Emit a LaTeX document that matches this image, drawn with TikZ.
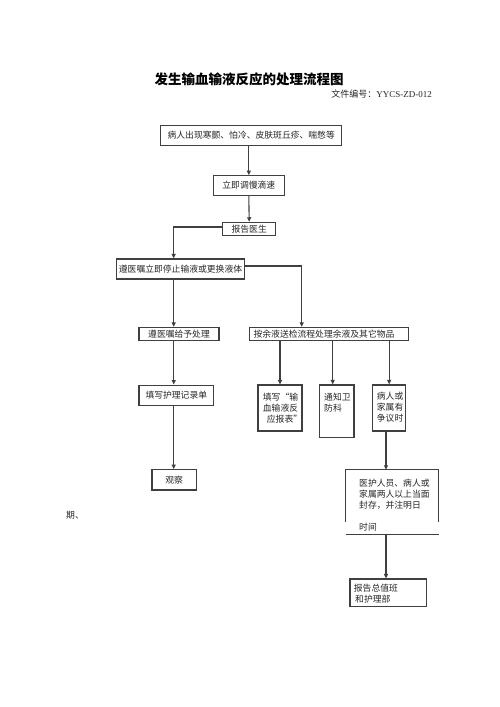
\documentclass[tikz,border=0pt]{standalone}
\usepackage{fontspec}
\setmainfont{Liberation Serif}
\newfontfamily\cjk{Noto Sans CJK SC}
\usetikzlibrary{arrows.meta,calc}
\begin{document}
\begin{tikzpicture}[x=1pt,y=-1pt,
  box/.style={draw=black!75, line width=1.1pt, inner sep=0pt, font=\cjk\fontsize{8.8}{11}\selectfont, text=black!85},
  txt/.style={inner sep=0pt, font=\cjk\fontsize{8.8}{11}\selectfont, align=left, text=black!85},
  arr/.style={draw=black!75, line width=1.1pt, -{Triangle[width=4pt,length=4.5pt]}},
  ln/.style={draw=black!75, line width=1.1pt}]
\useasboundingbox[fill=white] (0,0) rectangle (500,707);

% title
\node[inner sep=0pt, font=\cjk\bfseries\fontsize{13.5}{16}\selectfont] (title) at (249,79) {发生输血输液反应的处理流程图};
\node[inner sep=0pt, anchor=east, font=\fontsize{9}{11}\selectfont, text=black!85] (docno) at (432,94.3) {{\cjk 文件编号：}YYCS-ZD-012};

% boxes
\node[box, minimum width=181pt, minimum height=19.6pt] (b1) at (251.2,135.5) {病人出现寒颤、怕冷、皮肤斑丘疹、喘憋等};
\node[box, minimum width=71pt, minimum height=19.6pt] (b2) at (248.8,185.5) {立即调慢滴速};
\node[box, minimum width=53pt, minimum height=13.4pt] (b3) at (249.2,229) {报告医生};
\node[box, minimum width=127.6pt, minimum height=20pt] (b4) at (180.5,269) {遵医嘱立即停止输液或更换液体};
\node[box, minimum width=80pt, minimum height=12.7pt] (b5) at (179,333.7) {遵医嘱给予处理};
\node[box, minimum width=159.3pt, minimum height=12.7pt] (b6) at (328.7,333.7) {};
\node[txt] (t6) at (324,333.7) {按余液送检流程处理余液及其它物品};
\node[box, minimum width=74.7pt, minimum height=20.3pt] (b7) at (176.3,395.2) {填写护理记录单};
\node[box, minimum width=44pt, minimum height=46pt] (b8) at (280,408) {};
\node[txt, anchor=north west] (t8) at (262.7,392.7) {填写“输\\血输液反\\\hspace{4pt}应报表”};
\node[box, minimum width=34.7pt, minimum height=52.7pt] (b9) at (336.65,411.35) {};
\node[txt, anchor=north west] (t9) at (324,392.7) {通知卫\\防科};
\node[box, minimum width=33pt, minimum height=46pt] (b10) at (389.2,408) {};
\node[txt, anchor=north west] (t10) at (376.7,391.7) {病人或\\家属有\\争议时};
\node[box, minimum width=44.3pt, minimum height=20.3pt] (b11) at (174.15,479.85) {观察};
\node[inner sep=0pt, minimum width=92.3pt, minimum height=64pt] (b12) at (392.15,502) {};
\node[txt, anchor=north west] (t12) at (359,478.7) {医护人员、病人或\\家属两人以上当面\\封存，并注明日};
\node[txt, anchor=west] (t12b) at (359,526.7) {时间};
\node[box, minimum width=76.5pt, minimum height=27.5pt] (b13) at (388.25,592.75) {};
\node[txt, anchor=north west] (t13) at (353.7,583.7) {报告总值班\\\hspace{1.3pt}和护理部};
\node[txt] (qi) at (75,515) {期、};

% open box 12
\draw[ln] ([yshift=12.3pt]b12.south west) -- (b12.north west) -- (b12.north east) -- ([yshift=12.3pt]b12.south east);
\draw[ln] (b12.south west) -- (b12.south east);

% helper x positions
\coordinate (xL) at (173.7,0);
\coordinate (xR) at (301.7,0);
\coordinate (x9) at (332.7,0);
\coordinate (x12) at (386,0);

% connectors
\draw[arr] (b2.north |- b1.south) -- (b2.north);
\draw[arr] (b2.south) -- (b3.north);
\draw[arr] ([yshift=2pt]b3.west) -| (xL |- b4.north);
\draw[arr] ([yshift=3pt]b4.east) -| (xR |- b6.north);
\draw[arr] (xL |- b4.south) -- (xL |- b5.north);
\draw[arr] (xL |- b5.south) -- (xL |- b7.north);
\draw[arr] (xL |- b7.south) -- (xL |- b11.north);
\draw[arr] (b8.north |- b6.south) -- (b8.north);
\draw[arr] (x9 |- b6.south) -- (x9 |- b9.north);
\draw[arr] (b10.north |- b6.south) -- (b10.north);
\draw[arr] (x12 |- b10.south) -- (x12 |- b12.north);
\draw[arr] (x12 |- b12.south) -- (x12 |- b13.north);
\end{tikzpicture}
\end{document}
